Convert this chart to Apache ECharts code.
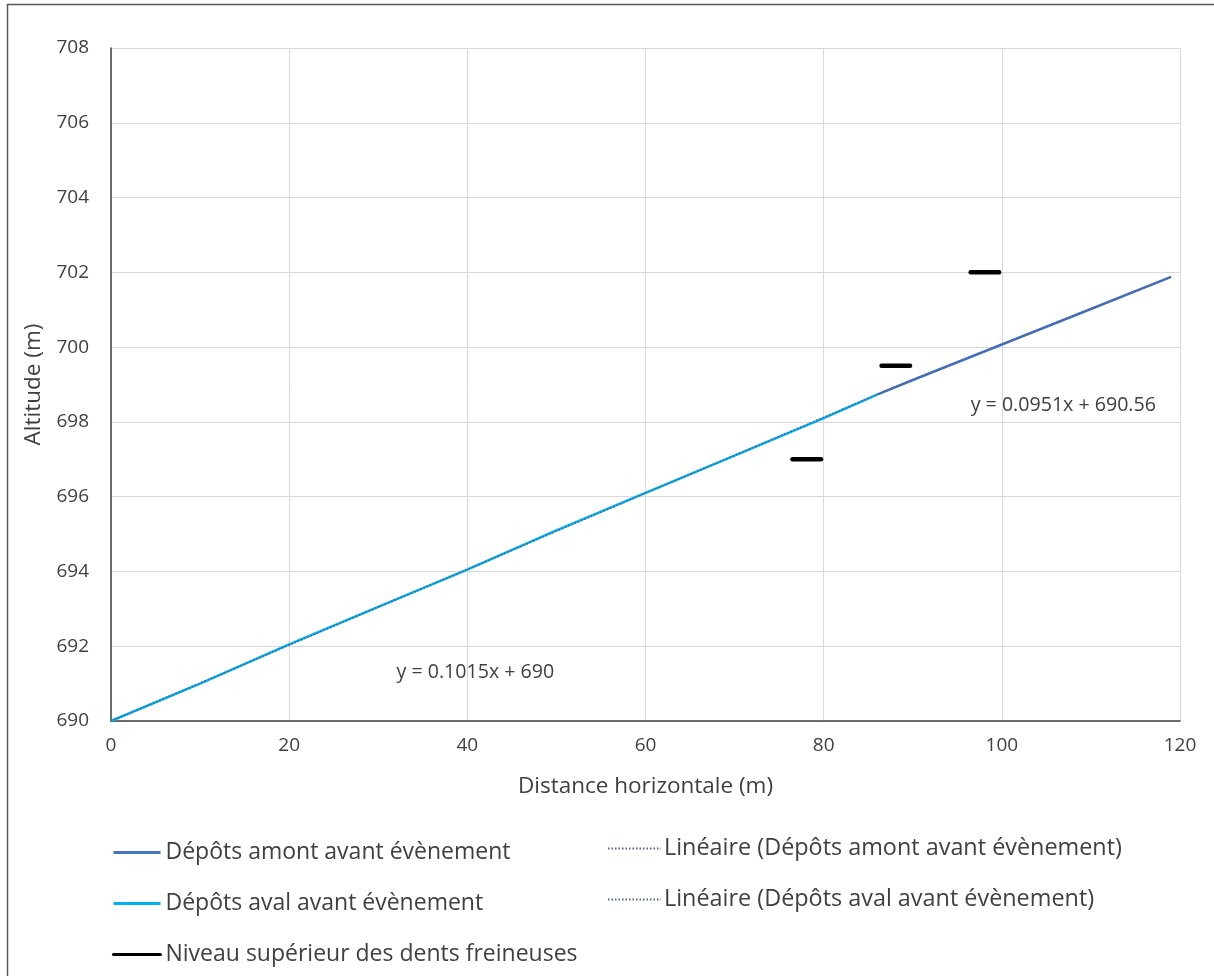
<!DOCTYPE html>
<html><head><meta charset="utf-8">
<script src="https://cdn.jsdelivr.net/npm/echarts@6/dist/echarts.min.js"></script>
<style>html,body{margin:0;padding:0;background:#fff}#c{width:1214px;height:976px}</style>
</head><body><div id="c"></div>
<script>
// Data
const xTicks = [0, 20, 40, 60, 80, 100, 120];
const yTicks = [690, 692, 694, 696, 698, 700, 702, 704, 706, 708];
const avalPts = [[0,690],[10,691.0],[20,692.05],[30,693.05],[40,694.05],[50,695.1],[60,696.1],[70,697.1],[80,698.1],[86,698.73]];
const amontPts = [[86,698.73],[90,699.12],[100,700.07],[110,701.02],[119,701.88]];
const trendAval = [[0,690],[86,698.73]];
const trendAmont = [[86,698.74],[119,701.88]];
const dent1 = [[76.5,697],[79.7,697]];
const dent2 = [[86.5,699.5],[89.7,699.5]];
const dent3 = [[96.5,702],[99.7,702]];
const eqAval = {text:'y = 0.1015x + 690', at:[40.9,691.3]};
const eqAmont = {text:'y = 0.0951x + 690.56', at:[106.9,698.45]};

const names = {
  amont:'Dépôts amont avant évènement',
  aval:'Dépôts aval avant évènement',
  dent:'Niveau supérieur des dents freineuses',
  linAmont:'Linéaire (Dépôts amont avant évènement)',
  linAval:'Linéaire (Dépôts aval avant évènement)'
};
const FONT = 'Open Sans';
const TXT = '#404040';
const chart = echarts.init(document.getElementById('c'));
const dentSeries = [dent1, dent2, dent3].map(d => ({
  name: names.dent, type:'line', data:d, symbol:'none', color:'#000',
  lineStyle:{color:'#000', width:4.5, cap:'round'}, z:5
}));
function eqLabel(e){
  return {symbol:'rect', symbolSize:1, itemStyle:{color:'rgba(0,0,0,0)'},
    label:{show:true, formatter:e.text, color:TXT, fontFamily:FONT, fontSize:19.6, position:'inside'},
    data:[{coord:e.at, value:0}]};
}
const hideSym = {opacity:0};
chart.setOption({
  animation:false,
  textStyle:{fontFamily:FONT},
  graphic:[{type:'rect', shape:{x:7.5,y:4.5,width:1230,height:1000}, style:{fill:'none', stroke:'#595959', lineWidth:1.5}}],
  grid:{left:111, top:48, right:34, bottom:255},
  xAxis:{type:'value', min:0, max:120, interval:20,
    name:'Distance horizontale (m)', nameLocation:'middle', nameGap:54,
    nameTextStyle:{color:TXT, fontSize:22.5, fontFamily:FONT},
    axisLine:{show:true, lineStyle:{color:'#404040', width:1.5}},
    axisTick:{show:false},
    axisLabel:{color:TXT, fontSize:19, margin:15, fontFamily:FONT},
    splitLine:{show:true, lineStyle:{color:'#d9d9d9', width:1}}
  },
  yAxis:{type:'value', min:690, max:708, interval:2,
    name:'Altitude (m)', nameLocation:'middle', nameGap:58, nameRotate:90,
    nameTextStyle:{color:TXT, fontSize:22.5, fontFamily:FONT},
    axisLine:{show:true, lineStyle:{color:'#404040', width:1.5}},
    axisTick:{show:false},
    axisLabel:{color:TXT, fontSize:19, margin:22, fontFamily:FONT},
    splitLine:{show:true, lineStyle:{color:'#d9d9d9', width:1}}
  },
  legend:[
    {left:112, top:841, padding:0, orient:'vertical', itemWidth:47, itemHeight:14, itemGap:28,
     textStyle:{color:TXT, fontSize:23, fontFamily:FONT, padding:[0,0,0,0]},
     lineStyle:{width:3},
     data:[{name:names.amont, itemStyle:hideSym},{name:names.aval, itemStyle:hideSym},{name:names.dent, itemStyle:hideSym}]},
    {left:607, top:837, padding:0, orient:'vertical', itemWidth:53, itemHeight:14, itemGap:28,
     textStyle:{color:TXT, fontSize:23.4, fontFamily:FONT, padding:[0,0,0,-2]},
     data:[{name:names.linAmont, itemStyle:hideSym},{name:names.linAval, itemStyle:hideSym}]}
  ],
  series:[
    {name:names.amont, type:'line', data:amontPts, symbol:'none', color:'#4472C4', lineStyle:{color:'#4472C4', width:2.5}, z:2},
    {name:names.aval, type:'line', data:avalPts, symbol:'none', color:'#00B0F0', lineStyle:{color:'#00B0F0', width:2.5}, z:2,
     markPoint:eqLabel(eqAval)},
    ...dentSeries,
    {name:names.linAmont, type:'line', data:trendAmont, symbol:'none', color:'#4a6591', lineStyle:{color:'#4a6591', width:1.5, type:[1.5,2]}, z:3,
     markPoint:eqLabel(eqAmont)},
    {name:names.linAval, type:'line', data:trendAval, symbol:'none', color:'#4a6591', lineStyle:{color:'#4a6591', width:1.5, type:[1.5,2]}, z:3}
  ]
});
</script></body></html>
